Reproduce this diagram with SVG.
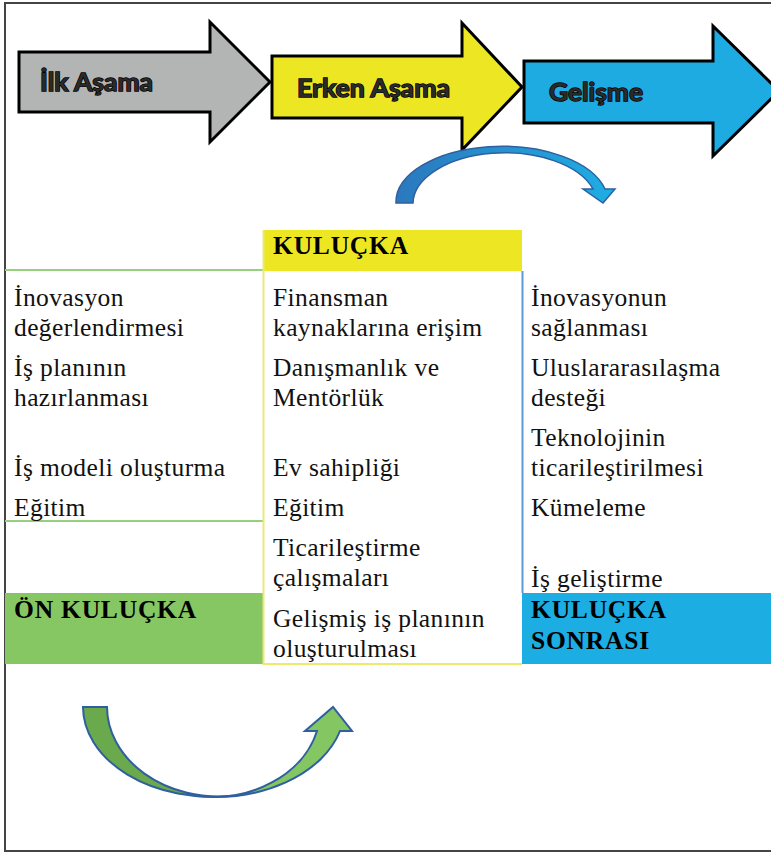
<svg xmlns="http://www.w3.org/2000/svg" width="771" height="854" viewBox="0 0 771 854">
<defs>
<style>
.stage{stroke:#000;stroke-width:3;stroke-linejoin:miter}
.stxt{font-family:Lato,"Open Sans","Liberation Sans",sans-serif;font-weight:bold;font-size:24.5px;fill:#2a2a2a;stroke:#000;stroke-width:1.4;paint-order:stroke}
.t{font-family:"Liberation Serif","Times New Roman",serif;font-size:25.5px;fill:#111;letter-spacing:0.4px}
.b{font-family:"Liberation Serif","Times New Roman",serif;font-size:25.5px;font-weight:bold;fill:#000;letter-spacing:0.8px}
.frame{stroke:#444;stroke-width:2;fill:none}
</style>
<linearGradient id="gBlue" x1="0" y1="0" x2="1" y2="0">
<stop offset="0" stop-color="#2b78bd"/>
<stop offset="1" stop-color="#1eaee4"/>
</linearGradient>
</defs>
<rect width="771" height="854" fill="#fff"/>
<g id="frame">
<line class="frame" x1="5" y1="3" x2="5" y2="851"/>
<line class="frame" x1="4" y1="3" x2="771" y2="3"/>
<line class="frame" x1="4" y1="851" x2="771" y2="851"/>
</g>
<g id="stage-ilk">
<polygon class="stage" fill="#b3b5b5" points="19,52 210,52 210,22 270,82 210,142 210,112 19,112"/>
<text class="stxt" x="40" y="91" textLength="113" lengthAdjust="spacingAndGlyphs">İlk Aşama</text>
</g>
<g id="stage-erken">
<polygon class="stage" fill="#ede723" points="272,56 462,56 462,23 522,87 462,150 462,118 272,118"/>
<text class="stxt" x="297" y="97" textLength="153" lengthAdjust="spacingAndGlyphs">Erken Aşama</text>
</g>
<g id="stage-gelisme">
<polygon class="stage" fill="#1dabe2" points="524,61 713,61 713,26 779,91 713,156 713,123 524,123"/>
<text class="stxt" x="549" y="101" textLength="94" lengthAdjust="spacingAndGlyphs">Gelişme</text>
</g>
<g id="col-on-kulucka">
<line x1="5" y1="270" x2="263" y2="270" stroke="#96d07c" stroke-width="2"/>
<line x1="5" y1="521" x2="263" y2="521" stroke="#96d07c" stroke-width="2"/>
<rect x="5" y="593" width="258" height="71" fill="#86c663"/>
<text class="t" x="14" y="306">İnovasyon</text>
<text class="t" x="14" y="336">değerlendirmesi</text>
<text class="t" x="14" y="376">İş planının</text>
<text class="t" x="14" y="406">hazırlanması</text>
<text class="t" x="14" y="476">İş modeli oluşturma</text>
<text class="t" x="14" y="516">Eğitim</text>
<text class="b" x="14" y="618">ÖN KULUÇKA</text>
</g>
<g id="col-kulucka">
<rect x="263" y="230" width="259" height="41" fill="#ede723"/>
<line x1="263.5" y1="230" x2="263.5" y2="665" stroke="#e9e87a" stroke-width="2"/>
<line x1="263" y1="664" x2="522" y2="664" stroke="#ece96b" stroke-width="2"/>
<text class="b" x="273" y="254">KULUÇKA</text>
<text class="t" x="273" y="306">Finansman</text>
<text class="t" x="273" y="336">kaynaklarına erişim</text>
<text class="t" x="273" y="376">Danışmanlık ve</text>
<text class="t" x="273" y="406">Mentörlük</text>
<text class="t" x="273" y="476">Ev sahipliği</text>
<text class="t" x="273" y="516">Eğitim</text>
<text class="t" x="273" y="556">Ticarileştirme</text>
<text class="t" x="273" y="586">çalışmaları</text>
<text class="t" x="273" y="627">Gelişmiş iş planının</text>
<text class="t" x="273" y="657">oluşturulması</text>
</g>
<g id="col-kulucka-sonrasi">
<line x1="522.5" y1="271" x2="522.5" y2="593" stroke="#5b9bd5" stroke-width="2"/>
<rect x="522" y="593" width="249" height="71" fill="#1cade3"/>
<text class="t" x="531" y="306">İnovasyonun</text>
<text class="t" x="531" y="336">sağlanması</text>
<text class="t" x="531" y="376">Uluslararasılaşma</text>
<text class="t" x="531" y="406">desteği</text>
<text class="t" x="531" y="446">Teknolojinin</text>
<text class="t" x="531" y="476">ticarileştirilmesi</text>
<text class="t" x="531" y="516">Kümeleme</text>
<text class="t" x="531" y="587">İş geliştirme</text>
<text class="b" x="531" y="618">KULUÇKA</text>
<text class="b" x="531" y="649">SONRASI</text>
</g>
<g id="connectors">
<path d="M396,203 A106,56 0 0 1 605,189 L615,189 L603,203 L583,189 L593,189 A92,51 0 0 0 413,203 Z" fill="url(#gBlue)" stroke="#2f5f9f" stroke-width="1.5" stroke-linejoin="miter"/>
<path d="M83,707 A130,90 0 0 0 230,796 A112,90 0 0 1 107,707 Z" fill="#6aa94c" stroke="#2f5f9f" stroke-width="2"/>
<path d="M196,796 A130,90 0 0 0 340,731 L352,731 L333,707 L305,731 L317,731 A108,88 0 0 1 196,796 Z" fill="#84c662" stroke="#2f5f9f" stroke-width="2" stroke-linejoin="miter"/>
</g>
</svg>
